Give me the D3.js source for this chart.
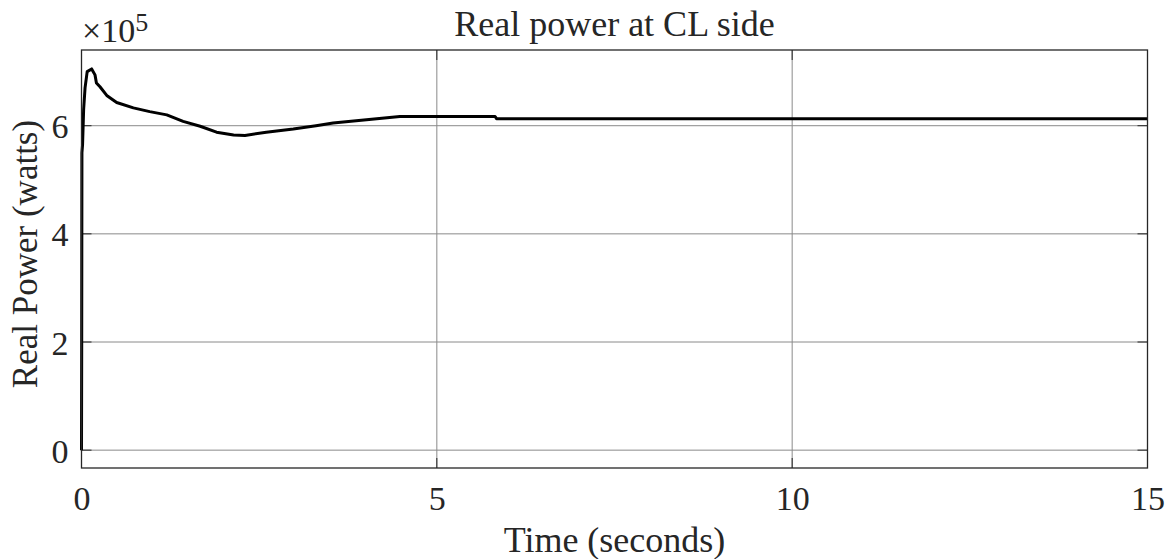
<!DOCTYPE html>
<html>
<head>
<meta charset="utf-8">
<script src="https://cdn.jsdelivr.net/npm/d3@7"></script>
<style>
  html, body { margin: 0; padding: 0; background: #fff; }
  text, tspan { font-family: "Liberation Serif", "Times New Roman", serif; fill: #262626; }
</style>
</head>
<body>
<svg id="chart" width="1173" height="559"></svg>
<script>
// ---- data (time in seconds, real power in watts) ----
const time = [0, 0.003, 0.006, 0.015, 0.03, 0.05, 0.08, 0.143, 0.19, 0.21, 0.26, 0.355, 0.495,
              0.73, 0.96, 1.2, 1.43, 1.67, 1.9, 2.14, 2.3, 2.6, 2.98, 3.3, 3.54, 4.01, 4.48,
              5.0, 5.82, 5.84, 8, 10, 12, 15];
const power = [0, 200000, 550000, 565000, 630000, 670000, 700000, 705000, 694000, 679000, 672000,
               656000, 643000, 633000, 626000, 620000, 608000, 599000, 588000, 583000, 582000,
               588000, 594000, 600000, 605000, 611000, 617000, 617000, 617000, 613000, 613000,
               613000, 613000, 613000];
const xTicks = [0, 5, 10, 15];
const yTicks = [0, 200000, 400000, 600000];
const xDomain = [0, 15];
const yDomain = [-33000, 740000];
const title = "Real power at CL side";
const xLabel = "Time (seconds)";
const yLabel = "Real Power (watts)";

// ---- layout ----
const svg = d3.select("#chart");
const L = 81.5, R = 1147.5, T = 50, B = 468;
const x = d3.scaleLinear().domain(xDomain).range([L, R]);
const y = d3.scaleLinear().domain(yDomain).range([B, T]);

// grid
const g = svg.append("g");
g.selectAll("line.vg").data(xTicks).join("line")
  .attr("x1", d => x(d)).attr("x2", d => x(d)).attr("y1", T).attr("y2", B)
  .attr("stroke", "#8a8a8a").attr("stroke-width", 1);
g.selectAll("line.hg").data(yTicks).join("line")
  .attr("y1", d => y(d)).attr("y2", d => y(d)).attr("x1", L).attr("x2", R)
  .attr("stroke", "#8a8a8a").attr("stroke-width", 1);

// inward ticks on all four sides
const tickLen = 10;
const tk = svg.append("g").attr("stroke", "#262626").attr("stroke-width", 1);
xTicks.forEach(d => {
  tk.append("line").attr("x1", x(d)).attr("x2", x(d)).attr("y1", B).attr("y2", B - tickLen);
  tk.append("line").attr("x1", x(d)).attr("x2", x(d)).attr("y1", T).attr("y2", T + tickLen);
});
yTicks.forEach(d => {
  tk.append("line").attr("x1", L).attr("x2", L + tickLen).attr("y1", y(d)).attr("y2", y(d));
  tk.append("line").attr("x1", R).attr("x2", R - tickLen).attr("y1", y(d)).attr("y2", y(d));
});

// curve
const line = d3.line().x((d, i) => x(time[i])).y(d => y(d));
svg.append("path").datum(power)
  .attr("d", line)
  .attr("fill", "none").attr("stroke", "#000").attr("stroke-width", 3)
  .attr("stroke-linejoin", "round");

// box
svg.append("rect").attr("x", L).attr("y", T).attr("width", R - L).attr("height", B - T)
  .attr("fill", "none").attr("stroke", "#262626").attr("stroke-width", 1.3);

// axes labels via d3 axis (domain/ticks hidden, labels used)
const xAxis = d3.axisBottom(x).tickValues(xTicks).tickSize(0).tickPadding(0).tickFormat(d3.format("d"));
const xa = svg.append("g").attr("transform", `translate(0,${B})`).call(xAxis);
xa.select(".domain").remove();
xa.selectAll("text").attr("y", 42).attr("dy", null)
  .style("font-family", '"Liberation Serif", serif').style("font-size", "34px").attr("fill", "#262626");

const yAxis = d3.axisLeft(y).tickValues(yTicks).tickSize(0).tickPadding(0).tickFormat(d => d3.format("d")(d / 1e5));
const ya = svg.append("g").attr("transform", `translate(${L},0)`).call(yAxis);
ya.select(".domain").remove();
ya.selectAll("text").attr("x", -13).attr("dy", "12px")
  .style("font-family", '"Liberation Serif", serif').style("font-size", "34px").attr("fill", "#262626");

// exponent
const ex = svg.append("text").attr("x", 82).attr("y", 42).attr("font-size", 34);
ex.append("tspan").attr("font-size", 34).text("\u00d710");
ex.append("tspan").attr("dy", -11).attr("font-size", 26).text("5");

// title
svg.append("text").attr("x", (L + R) / 2).attr("y", 36).attr("text-anchor", "middle")
  .style("font-size", "36px").text(title);
// x label
svg.append("text").attr("x", (L + R) / 2).attr("y", 552).attr("text-anchor", "middle")
  .style("font-size", "36px").text(xLabel);
// y label
svg.append("text").attr("transform", `translate(37,${(T + B) / 2 - 5}) rotate(-90)`)
  .attr("text-anchor", "middle").style("font-size", "35px").text(yLabel);
</script>
</body>
</html>
